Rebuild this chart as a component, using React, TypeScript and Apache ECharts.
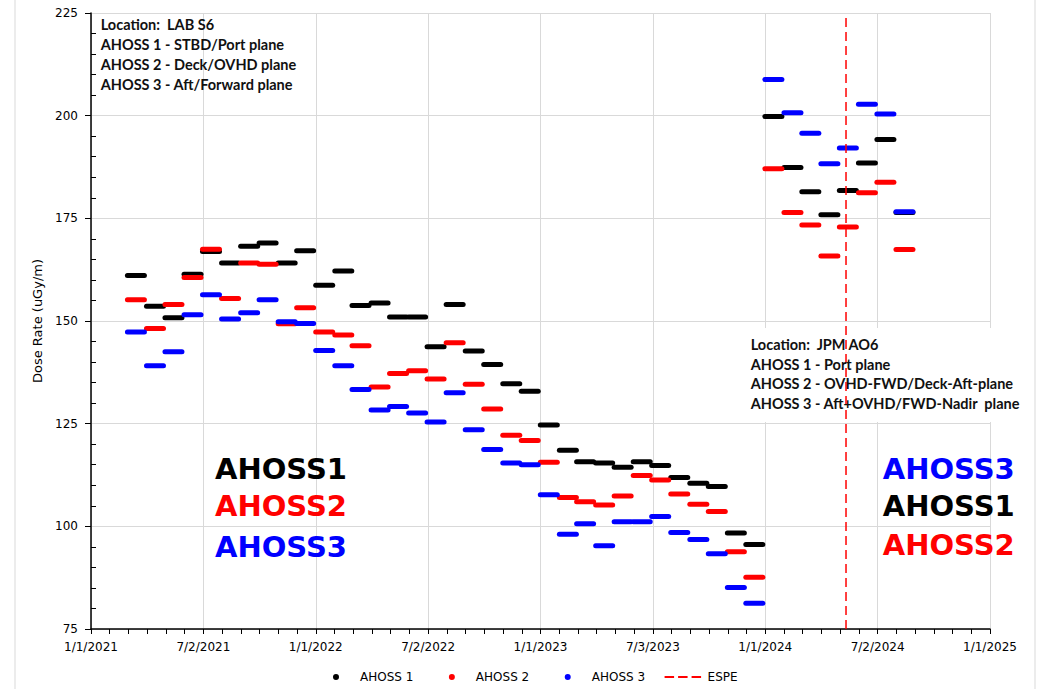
import React, { useEffect, useRef } from "react";
import * as echarts from "echarts";

// Monthly measurement dates (plotted mid-month)
const months = [
  "2021-03", "2021-04", "2021-05", "2021-06", "2021-07", "2021-08", "2021-09", "2021-10", "2021-11", "2021-12",
  "2022-01", "2022-02", "2022-03", "2022-04", "2022-05", "2022-06", "2022-07", "2022-08", "2022-09", "2022-10", "2022-11", "2022-12",
  "2023-01", "2023-02", "2023-03", "2023-04", "2023-05", "2023-06", "2023-07", "2023-08", "2023-09", "2023-10", "2023-11", "2023-12",
  "2024-01", "2024-02", "2024-03", "2024-04", "2024-05", "2024-06", "2024-07", "2024-08",
];

const ahoss1 = [
  161.1, 153.6, 150.8, 161.4, 166.9, 164.1, 168.2, 169.0, 164.1, 167.1,
  158.7, 162.2, 153.8, 154.4, 151.0, 151.0, 143.7, 154.0, 142.7, 139.4, 134.7, 132.9,
  124.7, 118.5, 115.7, 115.4, 114.4, 115.7, 114.8, 111.9, 110.5, 109.7, 98.4, 95.6,
  199.8, 187.4, 181.5, 175.9, 181.8, 188.5, 194.2, 176.4,
];

const ahoss2 = [
  155.2, 148.2, 154.0, 160.6, 167.5, 155.5, 164.1, 163.8, 149.3, 153.2,
  147.3, 146.6, 144.0, 133.9, 137.2, 137.9, 135.9, 144.7, 134.6, 128.6, 122.2, 120.9,
  115.6, 107.0, 106.0, 105.2, 107.4, 112.4, 111.3, 107.9, 105.4, 103.6, 93.8, 87.6,
  187.1, 176.4, 173.4, 165.8, 172.9, 181.2, 183.8, 167.4,
];

const ahoss3 = [
  147.3, 139.1, 142.5, 151.5, 156.4, 150.5, 152.0, 155.2, 149.8, 149.4,
  142.8, 139.1, 133.3, 128.3, 129.2, 127.6, 125.4, 132.5, 123.5, 118.7, 115.4, 115.0,
  107.7, 98.1, 100.6, 95.3, 101.1, 101.1, 102.4, 98.5, 96.8, 93.3, 85.1, 81.3,
  208.8, 200.7, 195.7, 188.3, 192.1, 202.8, 200.4, 176.6,
];

const xTickLabels = [
  "1/1/2021", "7/2/2021", "1/1/2022", "7/2/2022", "1/1/2023",
  "7/3/2023", "1/1/2024", "7/2/2024", "1/1/2025",
];

const espeDate = "2024-05-12";

const seriesNames = ["AHOSS 1", "AHOSS 2", "AHOSS 3", "ESPE"];
const seriesColors = ["#000000", "#ff0000", "#0000ff", "#ff0000"];

const leftBoxLines = [
  "Location:  LAB S6",
  "AHOSS 1 - STBD/Port plane",
  "AHOSS 2 - Deck/OVHD plane",
  "AHOSS 3 - Aft/Forward plane",
];

const rightBoxLines = [
  "Location:  JPM AO6",
  "AHOSS 1 - Port plane",
  "AHOSS 2 - OVHD-FWD/Deck-Aft-plane",
  "AHOSS 3 - Aft+OVHD/FWD-Nadir  plane",
];

const DAY0 = Date.UTC(2021, 0, 1);
const XMAX = 1461;
const XINT = XMAX / 8;

function toDay(s: string, defDay = 15): number {
  const p = s.split("-").map(Number);
  return (Date.UTC(p[0], p[1] - 1, p[2] || defDay) - DAY0) / 86400000;
}

const dashSymbol =
  "path://M2.5,0H19.5A2.5,2.5,0,0,1,19.5,5H2.5A2.5,2.5,0,0,1,2.5,0Z";

// legend icons drawn in a 38x6 box (tiny corner squares fix the bounding box)
const CORNERS = "M0,0h0.01v0.01h-0.01z M37.99,5.99h0.01v0.01h-0.01z";
const dotIcon = "path://" + CORNERS + " M16,3a3,3 0 1,0 6,0a3,3 0 1,0 -6,0z";
const dashedIcon =
  "path://" + CORNERS + " M0,2h9.5v2h-9.5z M13.5,2h9.5v2h-9.5z M27,2h9.5v2h-9.5z";

const FONT = "DejaVu Sans";
const BOXFONT = "bold 14.5px Lato";
const BIGFONT = "bold 29px 'DejaVu Sans'";

export default function App() {
  const ref = useRef<HTMLDivElement>(null);

  useEffect(() => {
    if (!ref.current) return;
    const chart = echarts.init(ref.current, undefined, { renderer: "svg" });
    const xs = months.map((m) => toDay(m));
    const mk = (vals: number[]) => vals.map((v, i) => [xs[i], v]);
    const espeX = toDay(espeDate);

    const scatter = (idx: number, vals: number[], z: number) => ({
      name: seriesNames[idx],
      type: "scatter",
      data: mk(vals),
      symbol: dashSymbol,
      symbolSize: [22, 5],
      itemStyle: { color: seriesColors[idx], opacity: 1 },
      z,
    });

    const option: any = {
      animation: false,
      backgroundColor: "#ffffff",
      grid: { left: 91, right: 61, top: 13, bottom: 60, containLabel: false },
      legend: {
        left: 317,
        top: 671,
        padding: 0,
        itemWidth: 38,
        itemHeight: 6,
        itemGap: 19.5,
        textStyle: { fontFamily: FONT, fontSize: 12, color: "#000" },
        data: [
          { name: seriesNames[0], icon: dotIcon, itemStyle: { borderWidth: 0 } },
          { name: seriesNames[1], icon: dotIcon, itemStyle: { borderWidth: 0 } },
          { name: seriesNames[2], icon: dotIcon, itemStyle: { borderWidth: 0 } },
          { name: seriesNames[3], icon: dashedIcon, itemStyle: { borderWidth: 0, color: seriesColors[3] } },
        ],
      },
      xAxis: {
        type: "value",
        min: 0,
        max: XMAX,
        interval: XINT,
        axisLine: { show: true, lineStyle: { color: "#000", width: 1.5 } },
        axisTick: { show: true, length: 5, lineStyle: { color: "#000" } },
        minorTick: { show: true, splitNumber: 6, length: 5, lineStyle: { color: "#000" } },
        splitLine: { show: true, lineStyle: { color: "#d9d9d9", width: 1 } },
        axisLabel: {
          margin: 12,
          fontFamily: FONT,
          fontSize: 12,
          color: "#000",
          showMinLabel: true,
          showMaxLabel: true,
          formatter: (v: number) => xTickLabels[Math.round(v / XINT)] ?? "",
        },
      },
      yAxis: [
        {
          type: "value",
          min: 75,
          max: 225,
          interval: 25,
          name: "Dose Rate (uGy/m)",
          nameLocation: "middle",
          nameGap: 34,
          nameTextStyle: { fontFamily: FONT, fontSize: 13, color: "#000" },
          axisLine: { show: true, lineStyle: { color: "#000", width: 1.5 } },
          axisTick: { show: true, length: 6, lineStyle: { color: "#000" } },
          splitLine: { show: true, lineStyle: { color: "#d9d9d9", width: 1 } },
          axisLabel: { margin: 13, fontFamily: FONT, fontSize: 12, color: "#000" },
        },
        {
          type: "value",
          min: 75,
          max: 225,
          interval: 25,
          position: "left",
          axisLine: { show: false },
          axisTick: { show: false, inside: true },
          minorTick: { show: true, splitNumber: 5, length: 5, lineStyle: { color: "#000" } },
          splitLine: { show: false },
          axisLabel: { show: false },
        },
      ],
      series: [
        scatter(0, ahoss1, 2),
        scatter(1, ahoss2, 3),
        scatter(2, ahoss3, 4),
        {
          name: seriesNames[3],
          type: "line",
          data: [
            [espeX, 75],
            [espeX, 225],
          ],
          symbol: "none",
          lineStyle: { color: seriesColors[3], width: 1.5, type: [9, 5] },
          itemStyle: { color: seriesColors[3] },
          z: 5,
        },
      ],
      graphic: [
        {
          type: "rect",
          silent: true,
          z: 0,
          shape: { x: 15, y: -5, width: 1020, height: 700 },
          style: { fill: "none", stroke: "#d9d9d9", lineWidth: 1 },
        },
        {
          type: "rect",
          silent: true,
          z: 1,
          shape: { x: 745, y: 328, width: 282, height: 94 },
          style: { fill: "#ffffff" },
        },
        {
          type: "text",
          silent: true,
          z: 10,
          x: 100.7,
          y: 14.6,
          style: {
            text: leftBoxLines.join("\n"),
            font: BOXFONT,
            fill: "#111",
            lineHeight: 20,
            verticalAlign: "top",
          },
        },
        {
          type: "text",
          silent: true,
          z: 10,
          x: 750.7,
          y: 334.8,
          style: {
            text: rightBoxLines.join("\n"),
            font: BOXFONT,
            fill: "#111",
            lineHeight: 19.5,
            verticalAlign: "top",
          },
        },
        { type: "text", silent: true, z: 10, x: 215, y: 469.3, style: { text: "AHOSS1", font: BIGFONT, fill: "#000", verticalAlign: "middle" } },
        { type: "text", silent: true, z: 10, x: 215, y: 506.3, style: { text: "AHOSS2", font: BIGFONT, fill: "#ff0000", verticalAlign: "middle" } },
        { type: "text", silent: true, z: 10, x: 215, y: 547.3, style: { text: "AHOSS3", font: BIGFONT, fill: "#0000ff", verticalAlign: "middle" } },
        { type: "text", silent: true, z: 10, x: 882.7, y: 469.3, style: { text: "AHOSS3", font: BIGFONT, fill: "#0000ff", verticalAlign: "middle" } },
        { type: "text", silent: true, z: 10, x: 882.7, y: 506.3, style: { text: "AHOSS1", font: BIGFONT, fill: "#000", verticalAlign: "middle" } },
        { type: "text", silent: true, z: 10, x: 882.7, y: 545.3, style: { text: "AHOSS2", font: BIGFONT, fill: "#ff0000", verticalAlign: "middle" } },
      ],
    };

    chart.setOption(option);
    return () => chart.dispose();
  }, []);

  return (
    <div
      ref={ref}
      style={{ position: "fixed", left: 0, top: 0, width: 1051, height: 689, background: "#fff" }}
    />
  );
}
